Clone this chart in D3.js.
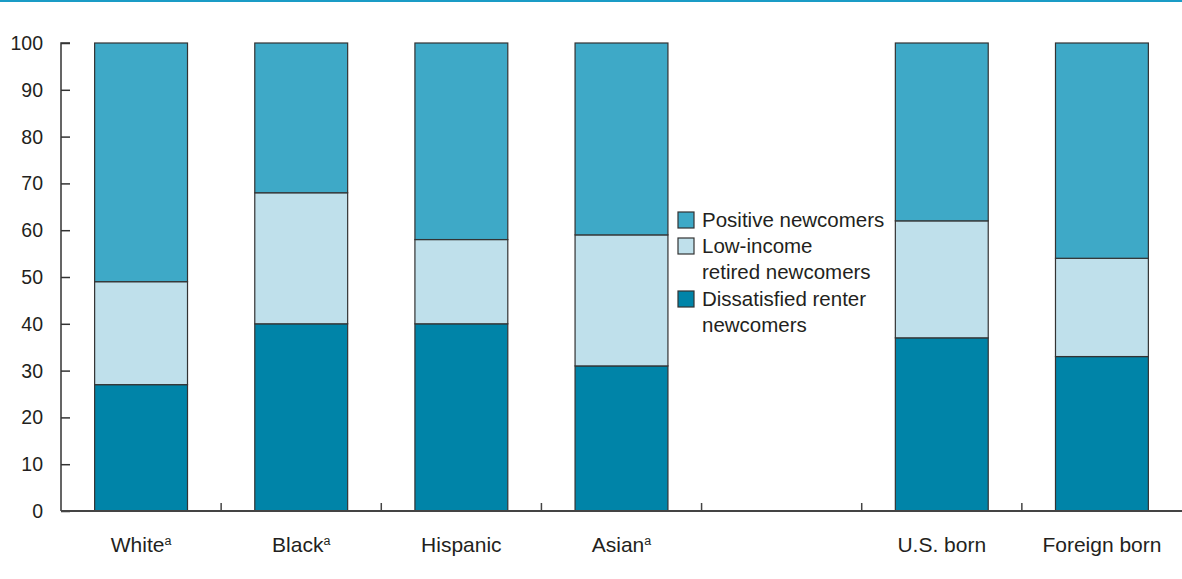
<!DOCTYPE html>
<html><head><meta charset="utf-8">
<script src="https://cdn.jsdelivr.net/npm/d3@7"></script>
<style>
body{margin:0;background:#fff;}
svg{display:block;font-family:"Liberation Sans",Arial,sans-serif;}
</style></head>
<body><svg id="c" width="1182" height="579"></svg>
<script>
const categories = ["White","Black","Hispanic","Asian","","U.S. born","Foreign born"];
const superscripts = ["a","a","","a","","",""];
const dissatisfied = [27,40,40,31,null,37,33];
const lowIncome    = [22,28,18,28,null,25,21];
const positive     = [51,32,42,41,null,38,46];
const seriesNames = ["Positive newcomers","Low-income\nretired newcomers","Dissatisfied renter\nnewcomers"];
const yTicks = [0,10,20,30,40,50,60,70,80,90,100];

const colors = {dis:"#0084a8", low:"#bfe0eb", pos:"#3ea9c7"};
const svg = d3.select("#c");
const W=1182;
const m={left:61};
const x = d3.scaleBand().domain(d3.range(categories.length)).range([m.left,W]).paddingInner(0.42).paddingOuter(0.21);
const y = d3.scaleLinear().domain([0,100]).range([511,43]);

// top rule
svg.append("rect").attr("x",0).attr("y",0).attr("width",W).attr("height",2).attr("fill","#1a9cc6");

const keys=[["dis",dissatisfied],["low",lowIncome],["pos",positive]];
categories.forEach((c,i)=>{
  if(dissatisfied[i]==null) return;
  let base=0;
  keys.forEach(([k,arr])=>{
    const v=arr[i];
    svg.append("rect").attr("x",x(i)).attr("width",x.bandwidth())
      .attr("y",y(base+v)).attr("height",y(base)-y(base+v))
      .attr("fill",colors[k]).attr("stroke","#333").attr("stroke-width",1.2);
    base+=v;
  });
});

// y axis
const ya = svg.append("g").attr("transform",`translate(${m.left},0)`)
  .call(d3.axisRight(y).tickValues(yTicks).tickSize(9).tickFormat(""));
ya.select(".domain").attr("stroke","#333").attr("stroke-width",1.5).attr("d",`M9,${y(100)}H0V${y(0)}`);
ya.selectAll(".tick line").attr("stroke","#333").attr("stroke-width",1.5);
svg.append("g").selectAll("text").data(yTicks).join("text")
  .attr("x",43).attr("y",d=>y(d)).attr("dy","0.36em").attr("text-anchor","end")
  .attr("font-size",19.5).attr("fill","#231f20").text(d=>d);

// x axis
const bounds = d3.range(1,categories.length).map(i=>x(i)-x.step()*x.paddingInner()/2);
svg.append("line").attr("x1",m.left).attr("x2",W).attr("y1",y(0)).attr("y2",y(0)).attr("stroke","#444").attr("stroke-width",1.8);
svg.append("g").selectAll("line").data(bounds).join("line")
  .attr("x1",d=>d).attr("x2",d=>d).attr("y1",y(0)).attr("y2",y(0)-8).attr("stroke","#444").attr("stroke-width",1.5);

const xl = svg.append("g").selectAll("text").data(categories).join("text")
  .attr("x",(d,i)=>x(i)+x.bandwidth()/2).attr("y",552).attr("text-anchor","middle")
  .attr("font-size",21).attr("fill","#231f20");
xl.append("tspan").text(d=>d);
xl.append("tspan").attr("font-size",12.5).attr("dy",-7).text((d,i)=>superscripts[i]);

// legend
const leg = svg.append("g");
const legColors=[colors.pos,colors.low,colors.dis];
const legY=[220,246,299];
seriesNames.forEach((n,i)=>{
  leg.append("rect").attr("x",678).attr("y",legY[i]-8).attr("width",16).attr("height",16)
    .attr("fill",legColors[i]).attr("stroke","#333").attr("stroke-width",1.2);
  n.split("\n").forEach((line,j)=>{
    leg.append("text").attr("x",702).attr("y",legY[i]+j*26).attr("dy","0.36em")
      .attr("font-size",20.5).attr("fill","#231f20").text(line);
  });
});
</script></body></html>
